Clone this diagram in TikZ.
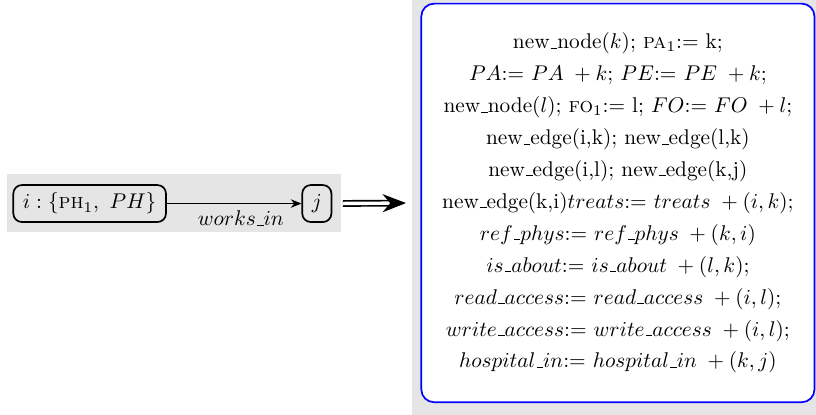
\documentclass[tikz,border=0pt]{standalone}
\usetikzlibrary{arrows.meta}
\newcommand{\usc}{\leavevmode\kern.06em\vbox{\hrule width.3em}}

\begin{document}
\begin{tikzpicture}[
  obj/.style={draw, thick, rounded corners=4pt, minimum height=0.61cm, inner xsep=4.5pt},
  rulebox/.style={draw=blue, thick, fill=white, rounded corners=6pt, minimum width=6.49cm, minimum height=6.58cm, align=center}
]
\useasboundingbox (0,0) rectangle (13.47,-6.85);
\fill[gray!20] (0.115,-2.87) rectangle (5.63,-3.83);
\fill[gray!20] (6.80,0) rectangle (13.47,-6.85);
\node[obj] (i) at (1.48,-3.36) {$i:\{$\textsc{ph}$_1,\ PH\}$};
\node[obj] (j) at (5.23,-3.36) {$j$};
\draw[-{Stealth[length=5pt,width=4pt]}] (i) -- (j) node[below, pos=0.55] (wi) {$works\usc in$};
\node[rulebox] (rhs) at (10.2,-3.35) {%
new\usc node($k$); \textsc{pa}$_1$:= k;\\[3pt]
$PA$:= $PA$ \,$+\: k$; $PE$:= $PE$ \,$+\: k$;\\[3pt]
new\usc node($l$); \textsc{fo}$_1$:= l; $FO$:= $FO$ \,$+\: l$;\\[3pt]
new\usc edge(i,k); new\usc edge(l,k)\\[3pt]
new\usc edge(i,l); new\usc edge(k,j)\\[3pt]
new\usc edge(k,i)$treats$:= $treats$ \,$+\: (i,k)$;\\[3pt]
$ref\usc phys$:= $ref\usc phys$ \,$+\: (k,i)$\\[3pt]
$is\usc about$:= $is\usc about$ \,$+\: (l,k)$;\\[3pt]
$read\usc access$:= $read\usc access$ \,$+\: (i,l)$;\\[3pt]
$write\usc access$:= $write\usc access$ \,$+\: (i,l)$;\\[3pt]
$hospital\usc in$:= $hospital\usc in$ \,$+\: (k,j)$};
\draw[double, double distance=1.6pt, thick, shorten <=5pt, shorten >=6.8pt, -{Stealth[length=11pt,width=8.5pt]}] (j.east) -- (rhs.west);
\end{tikzpicture}
\end{document}
